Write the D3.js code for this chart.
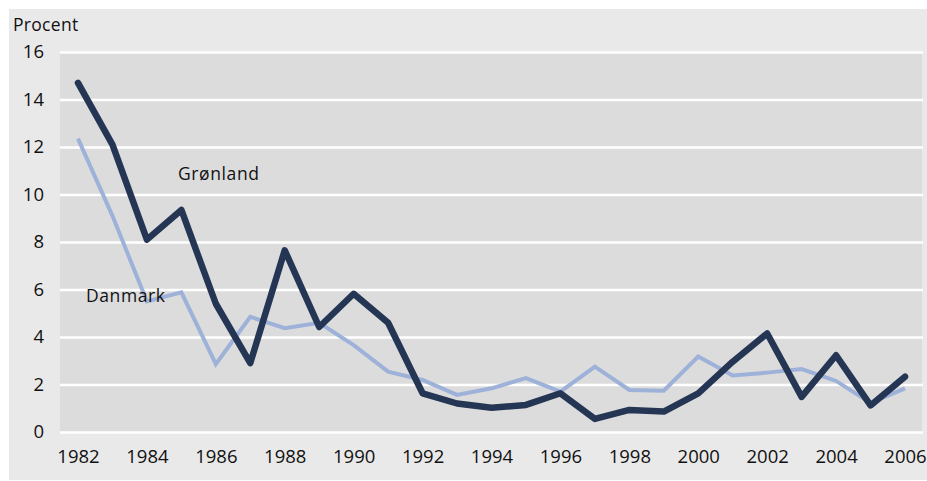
<!DOCTYPE html>
<html>
<head>
<meta charset="utf-8">
<script src="https://cdn.jsdelivr.net/npm/d3@7"></script>
<style>
  body { margin: 0; background: #fff; }
  text { font-family: "Open Sans", "DejaVu Sans", sans-serif; fill: #111; }
</style>
</head>
<body>
<div id="chart"></div>
<script>
// data
var years = d3.range(1982, 2007)
var groenland = [14.7, 12.1, 8.1, 9.35, 5.4, 2.9, 7.65, 4.42, 5.82, 4.6, 1.63, 1.2, 1.02, 1.14, 1.63, 0.55,
  0.93, 0.86, 1.63, 2.96, 4.15, 1.48, 3.23, 1.12, 2.33]
var danmark = [12.35, 9.1, 5.5, 5.88, 2.86, 4.85, 4.37, 4.6, 3.66, 2.54, 2.19, 1.56, 1.84, 2.27, 1.7, 2.75,
  1.77, 1.74, 3.18, 2.38, 2.5, 2.65, 2.15, 1.22, 1.84]
var yTicks = [0, 2, 4, 6, 8, 10, 12, 14, 16]
var xTicks = d3.range(1982, 2007, 2)

var W = 927, H = 481
var margin = {top: 52, right: 5, bottom: 49, left: 60}
var width = 923 - margin.left,
    height = 432 - margin.top

var svg = d3.select("#chart")
  .append("svg")
  .attr("width", W)
  .attr("height", H)

// outer panel
svg.append("rect")
  .attr("x", 9).attr("y", 9)
  .attr("width", W - 9).attr("height", H - 10)
  .attr("fill", "#e9e9e9")

var g = svg.append("g")
  .attr("transform", "translate(" + margin.left + "," + margin.top + ")")

var x = d3.scaleLinear()
  .domain([1982, 2006])
  .range([78 - margin.left, 905 - margin.left])

var y = d3.scaleLinear()
  .domain([0, 16])
  .range([height, 0])

// plot background
g.append("rect")
  .attr("x", 0).attr("y", 0)
  .attr("width", width - 1).attr("height", height)
  .attr("fill", "#dcdcdc")

// gridlines
g.append("g")
  .call(d3.axisLeft(y).tickValues(yTicks).tickSize(-width).tickFormat(""))
  .call(a => a.select(".domain").remove())
  .selectAll("line")
  .attr("stroke", "#fff")
  .attr("stroke-width", 2.5)

// y labels
g.append("g")
  .call(d3.axisLeft(y).tickValues(yTicks).tickSize(0).tickPadding(16))
  .call(a => a.select(".domain").remove())
  .selectAll("text")
  .style("font-size", "18.5px")

// x labels
g.append("g")
  .attr("transform", "translate(0," + height + ")")
  .call(d3.axisBottom(x).tickValues(xTicks).tickSize(0).tickPadding(18).tickFormat(d3.format("d")))
  .call(a => a.select(".domain").remove())
  .selectAll("text")
  .style("font-size", "18.5px")

var line = d3.line()
  .x(function(d, i) { return x(years[i]) })
  .y(function(d) { return y(d) })

g.append("path")
  .datum(danmark)
  .attr("fill", "none")
  .attr("stroke", "#9db1d9")
  .attr("stroke-width", 4)
  .attr("stroke-linejoin", "miter")
  .attr("d", line)

g.append("path")
  .datum(groenland)
  .attr("fill", "none")
  .attr("stroke", "#253655")
  .attr("stroke-width", 6.5)
  .attr("stroke-linecap", "round")
  .attr("stroke-linejoin", "round")
  .attr("d", line)

// series labels
svg.append("text")
  .attr("x", 178).attr("y", 180)
  .style("font-size", "17.5px")
  .style("letter-spacing", "0.6px")
  .text("Grønland")

svg.append("text")
  .attr("x", 86).attr("y", 302)
  .style("font-size", "17.5px")
  .style("letter-spacing", "0.6px")
  .text("Danmark")

svg.append("text")
  .attr("x", 13).attr("y", 31)
  .style("font-size", "17.5px")
  .style("letter-spacing", "0.3px")
  .text("Procent")
</script>
</body>
</html>
